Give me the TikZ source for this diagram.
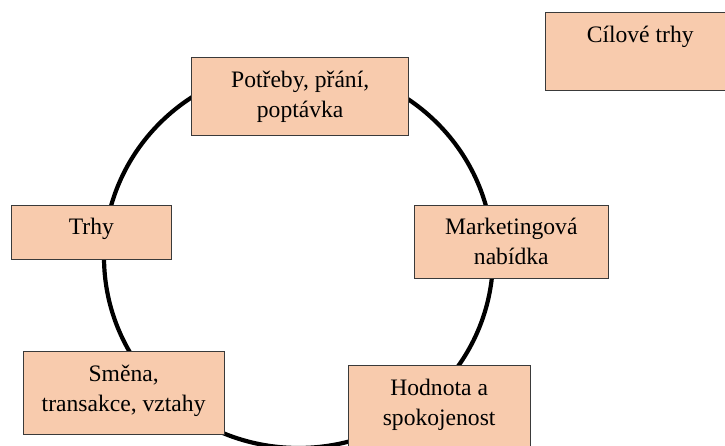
\documentclass[tikz,border=0pt]{standalone}
\usepackage{fontspec}
\setmainfont{Liberation Serif}
\definecolor{peach}{HTML}{F8CBAD}
\definecolor{edge}{HTML}{3A3A3A}
\newcommand\boxtext[3]{\parbox[t][#2][t]{#1}{\centering\fontsize{23.6pt}{30pt}\selectfont\rule{0pt}{30pt}#3}}
\begin{document}
\begin{tikzpicture}[x=1pt,y=-1pt,
  bx/.style={draw=edge,line width=0.9pt,fill=peach,inner sep=0pt,outer sep=0pt,anchor=north west}]
\useasboundingbox (0,0) rectangle (725,446);
\draw[line width=4.2pt] (298.5,257) ellipse [x radius=194.5, y radius=191];
\node[bx] (pot) at (191.7,57.3) {\boxtext{217pt}{78pt}{Potřeby, přání,\\poptávka}};
\node[bx] (cil) at (545.7,12.3) {\boxtext{189pt}{77.7pt}{Cílové trhy}};
\node[bx] (trhy) at (11,205) {\boxtext{160.7pt}{54pt}{Trhy}};
\node[bx] (mkt) at (414.3,205) {\boxtext{194pt}{73.3pt}{Marketingová\\nabídka}};
\node[bx] (sme) at (23.3,351.7) {\boxtext{200.7pt}{82.3pt}{Směna,\\transakce, vztahy}};
\node[bx] (hod) at (348.3,365) {\boxtext{181.7pt}{95pt}{Hodnota a\\spokojenost}};
\end{tikzpicture}
\end{document}
